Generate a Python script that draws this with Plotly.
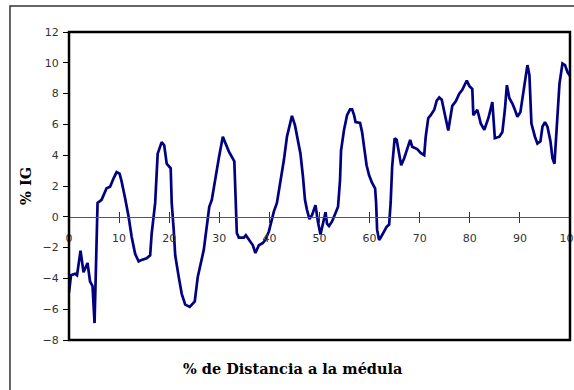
import plotly.graph_objects as go

# % distance to pith (x) and % IG (y)
x_pct = [0.0, 0.4, 1.2, 1.6, 2.3, 2.9, 3.7, 4.2, 4.7, 5.1, 5.7,
         6.5, 7.5, 8.2, 8.9, 9.5, 10.1, 10.5, 11.2, 11.9, 12.5, 13.2, 13.9,
         14.5, 15.5, 16.2, 16.5, 17.2, 17.7, 18.1, 18.5, 19.0, 19.5, 20.3,
         20.5, 20.9, 21.2, 21.9, 22.5, 23.2, 24.1, 25.1, 25.7, 26.9, 27.5,
         28.0, 28.5, 29.2, 29.9, 30.7, 31.2, 31.9, 33.0, 33.2, 33.5, 33.9,
         34.9, 35.3, 36.2, 36.7, 37.2, 37.9, 38.7, 39.2, 39.9, 40.4, 40.9,
         41.5, 42.2, 42.9, 43.5, 44.2, 44.5, 45.1, 45.5, 46.2, 46.7, 47.1,
         47.5, 48.0, 48.5, 49.2, 49.7, 50.2, 51.2, 51.5, 51.9, 52.5, 53.2,
         53.7, 54.1, 54.3, 54.9, 55.5, 56.1, 56.5, 56.9, 57.2, 58.1, 58.5,
         59.0, 59.4, 59.9, 60.5, 61.1, 61.3, 61.5, 61.9, 62.3, 62.9, 63.4,
         63.9, 64.2, 64.5, 65.0, 65.4, 65.9, 66.3, 66.9, 67.5, 68.1, 68.5,
         69.5, 70.2, 70.9, 71.2, 71.7, 72.2, 72.9, 73.4, 73.9, 74.4, 74.9,
         75.7, 76.5, 77.2, 77.9, 78.5, 79.4, 79.9, 80.5, 80.7, 81.5, 82.2,
         82.9, 83.7, 84.5, 85.0, 85.9, 86.5, 87.0, 87.4, 87.9, 88.5, 89.0,
         89.5, 90.1, 90.7, 91.5, 91.9, 92.3, 93.0, 93.5, 94.1, 94.5, 95.0,
         95.5, 96.1, 96.5, 96.9, 97.4, 97.9, 98.5, 99.0, 99.5, 100.0]
ig_pct = [-4.9, -3.8, -3.7, -3.8, -2.2, -3.6, -3.0, -4.2, -4.5, -6.9, 0.9,
          1.1, 1.85, 1.95, 2.5, 2.9, 2.8, 2.3, 1.2, 0.0, -1.3, -2.4, -2.9,
          -2.8, -2.7, -2.5, -1.1, 0.9, 4.1, 4.45, 4.85, 4.65, 3.45, 3.15,
          0.9, -0.85, -2.5, -3.9, -5.0, -5.7, -5.85, -5.5, -3.9, -2.15, -0.65,
          0.65, 1.1, 2.6, 3.8, 5.2, 4.8, 4.25, 3.6, 1.1, -1.05, -1.35,
          -1.35, -1.2, -1.6, -1.85, -2.35, -1.85, -1.7, -1.5, -0.95, -0.2, 0.35,
          0.9, 2.2, 3.7, 5.2, 6.3, 6.55, 5.95, 5.3, 4.1, 2.6, 1.1,
          0.45, -0.15, 0.1, 0.75, -0.35, -1.15, 0.3, -0.45, -0.6, -0.3, 0.25,
          0.65, 2.4, 4.3, 5.65, 6.6, 6.98, 6.98, 6.6, 6.15, 6.1, 5.5,
          4.3, 3.35, 2.7, 2.2, 1.85, 0.9, -0.85, -1.5, -1.3, -0.95, -0.65,
          -0.5, 0.9, 3.25, 5.1, 5.0, 4.1, 3.35, 3.8, 4.35, 5.0, 4.55,
          4.4, 4.15, 4.0, 5.2, 6.4, 6.6, 6.95, 7.55, 7.75, 7.6, 6.85,
          5.6, 7.2, 7.5, 8.0, 8.25, 8.85, 8.5, 8.3, 6.6, 6.95, 6.05,
          5.65, 6.4, 7.45, 5.1, 5.2, 5.5, 6.95, 8.55, 7.7, 7.35, 6.95,
          6.5, 6.8, 8.2, 9.85, 9.2, 6.05, 5.2, 4.75, 4.9, 5.85, 6.15,
          5.85, 4.9, 3.8, 3.45, 5.85, 8.65, 9.95, 9.85, 9.4, 9.15]

y_ticks = [-8, -6, -4, -2, 0, 2, 4, 6, 8, 10, 12]
x_ticks = [0, 10, 20, 30, 40, 50, 60, 70, 80, 90, 100]

tick_font = dict(family="DejaVu Sans", size=11, color="#333333")
title_font = dict(family="DejaVu Serif", size=14.5, color="#000000")

fig = go.Figure()
fig.add_trace(go.Scatter(x=x_pct, y=ig_pct, mode="lines",
                         line=dict(color="#000080", width=2.7),
                         showlegend=False))

fig.update_layout(
    width=574, height=390,
    margin=dict(l=69, r=4, t=32, b=50, autoexpand=False),
    paper_bgcolor="white", plot_bgcolor="white",
    xaxis=dict(range=[0, 100], tickvals=x_ticks, ticktext=[str(v) for v in x_ticks],
               anchor="free", position=0.4, showline=True, linecolor="#555555",
               linewidth=1, ticks="outside", ticklen=5, tickcolor="#333333",
               tickwidth=1, showgrid=False, zeroline=False, tickfont=tick_font,
               ticklabelstandoff=6, ticklabeloverflow="allow", automargin=False),
    xaxis2=dict(range=[0, 100], tickvals=x_ticks, overlaying="x",
                anchor="free", position=0.4, showline=False, ticks="inside",
                ticklen=5, tickcolor="#333333", tickwidth=1, automargin=False,
                showticklabels=False, showgrid=False, zeroline=False),
    yaxis=dict(range=[-8, 12], tickvals=y_ticks,
               ticktext=[str(v).replace("-", "\u2212") for v in y_ticks],
               showline=False, ticks="outside", ticklen=5, tickcolor="#000000",
               tickwidth=1, showgrid=False, zeroline=False, tickfont=tick_font,
               ticklabelstandoff=2, automargin=False),
    shapes=[
        dict(type="rect", xref="paper", yref="paper", x0=0, x1=1, y0=0, y1=1,
             line=dict(color="#000000", width=2.5), layer="above"),
        dict(type="rect", xref="paper", yref="paper", x0=-0.1178, x1=1.03,
             y0=-0.2, y1=1.0844, line=dict(color="#333333", width=1.5)),
    ],
    annotations=[
        dict(text="<b>% de Distancia a la médula</b>", xref="paper", yref="paper",
             x=0.447, y=-0.091, xanchor="center", yanchor="middle",
             showarrow=False, font=title_font),
        dict(text="<b>% IG</b>", xref="paper", yref="paper", x=-0.088, y=0.5,
             xanchor="center", yanchor="middle", textangle=-90,
             showarrow=False, font=title_font),
    ],
)
# invisible helper trace so the crossing tick marks of xaxis2 render
fig.add_trace(go.Scatter(x=[0], y=[0], xaxis="x2", mode="markers",
                         marker=dict(opacity=0), showlegend=False, hoverinfo="skip"))

fig.write_html("out.html", config={"displayModeBar": False},
               post_script="document.body.style.margin='0px';document.body.style.overflow='hidden';")
